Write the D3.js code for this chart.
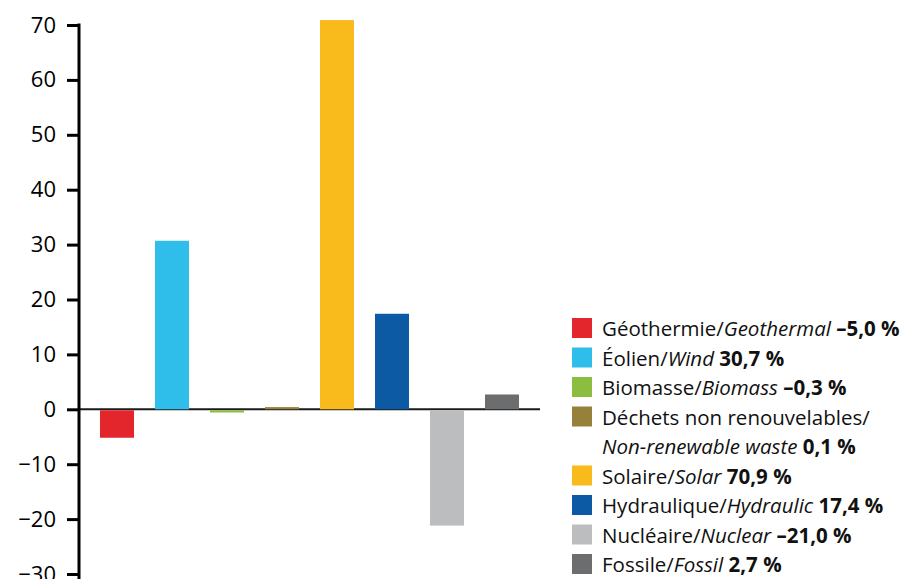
<!DOCTYPE html>
<html>
<head>
<meta charset="utf-8">
<script src="https://cdn.jsdelivr.net/npm/d3@7"></script>
<style>
  html, body { margin: 0; padding: 0; background: #fff; }
  svg { display: block; font-family: "Open Sans", "Noto Sans", sans-serif; }
</style>
</head>
<body>
<svg id="chart" width="906" height="579"></svg>
<script>
// Change in production by source (%)
const keys = ["geo", "wind", "bio", "waste", "solar", "hydro", "nuclear", "fossil"];
const values = [-5.0, 30.7, -0.3, 0.1, 70.9, 17.4, -21.0, 2.7];
const colors = ["#e3262b", "#2fbdea", "#8bbd41", "#978039", "#f9ba1b", "#0c5aa4", "#bcbdbf", "#6c6d6f"];
const labelsFr = ["Géothermie/", "Éolien/", "Biomasse/", "Déchets non renouvelables/", "Solaire/", "Hydraulique/", "Nucléaire/", "Fossile/"];
const labelsEn = ["Geothermal", "Wind", "Biomass", "Non-renewable waste", "Solar", "Hydraulic", "Nuclear", "Fossil"];
const valueLabels = ["–5,0 %", "30,7 %", "–0,3 %", "0,1 %", "70,9 %", "17,4 %", "–21,0 %", "2,7 %"];
const yTicks = [-30, -20, -10, 0, 10, 20, 30, 40, 50, 60, 70];

const svg = d3.select("#chart");

const x = d3.scaleBand().domain(keys).range([79, 540]).paddingInner(0.382).paddingOuter(0.382);
const y = d3.scaleLinear().domain([-30, 70]).range([574, 25]);

// zero baseline
svg.append("line")
  .attr("x1", 79).attr("x2", 540)
  .attr("y1", y(0)).attr("y2", y(0))
  .attr("stroke", "#1a1a1a").attr("stroke-width", 2);

// bars (very small changes keep a hairline so they stay visible)
const minH = 2.2;
svg.append("g").selectAll("rect")
  .data(values)
  .join("rect")
  .attr("x", (d, i) => x(keys[i]))
  .attr("width", x.bandwidth())
  .attr("y", d => {
    const h = Math.max(minH, Math.abs(y(d) - y(0)));
    return d >= 0 ? y(0) - h : y(0) + 1;
  })
  .attr("height", d => Math.max(minH, Math.abs(y(d) - y(0))))
  .attr("fill", (d, i) => colors[i]);

// y axis
const yAxis = d3.axisLeft(y)
  .tickValues(yTicks)
  .tickSize(12)
  .tickPadding(11)
  .tickFormat(d => d < 0 ? "−" + Math.abs(d) : String(d));

const gy = svg.append("g").attr("transform", "translate(79,0)").call(yAxis);
gy.select(".domain").remove();
gy.selectAll(".tick line").attr("stroke", "#000").attr("stroke-width", 3);
gy.selectAll(".tick text").attr("fill", "#000").style("font-size", "22px")
  .style("font-family", "'Open Sans', 'Noto Sans', sans-serif");
gy.append("line")
  .attr("x1", 0).attr("x2", 0)
  .attr("y1", y(70) - 1.5).attr("y2", 579)
  .attr("stroke", "#000").attr("stroke-width", 3);

// legend
const legendRows = [0, 1, 2, 3, 5, 6, 7, 8]; // the waste entry wraps onto two lines
const rowH = 29.5;
const fs = "20.5px";
const legend = svg.append("g").attr("transform", "translate(572,318)");
const item = legend.selectAll("g.item")
  .data(values)
  .join("g")
  .attr("class", "item")
  .attr("transform", (d, i) => `translate(0,${legendRows[i] * rowH})`);

item.append("rect")
  .attr("width", 20).attr("height", 20)
  .attr("fill", (d, i) => colors[i]);

item.each(function (d, i) {
  const g = d3.select(this);
  const t = g.append("text")
    .attr("x", 30).attr("y", 18)
    .attr("fill", "#111")
    .style("font-size", fs);
  t.append("tspan").text(labelsFr[i]);
  if (i === 3) {
    const t2 = g.append("text")
      .attr("x", 30).attr("y", 18 + rowH)
      .attr("fill", "#111")
      .style("font-size", fs);
    t2.append("tspan").style("font-style", "italic").text(labelsEn[i]);
    t2.append("tspan").style("font-weight", "bold").text(" " + valueLabels[i]);
  } else {
    t.append("tspan").style("font-style", "italic").text(labelsEn[i]);
    t.append("tspan").style("font-weight", "bold").text(" " + valueLabels[i]);
  }
});
</script>
</body>
</html>
